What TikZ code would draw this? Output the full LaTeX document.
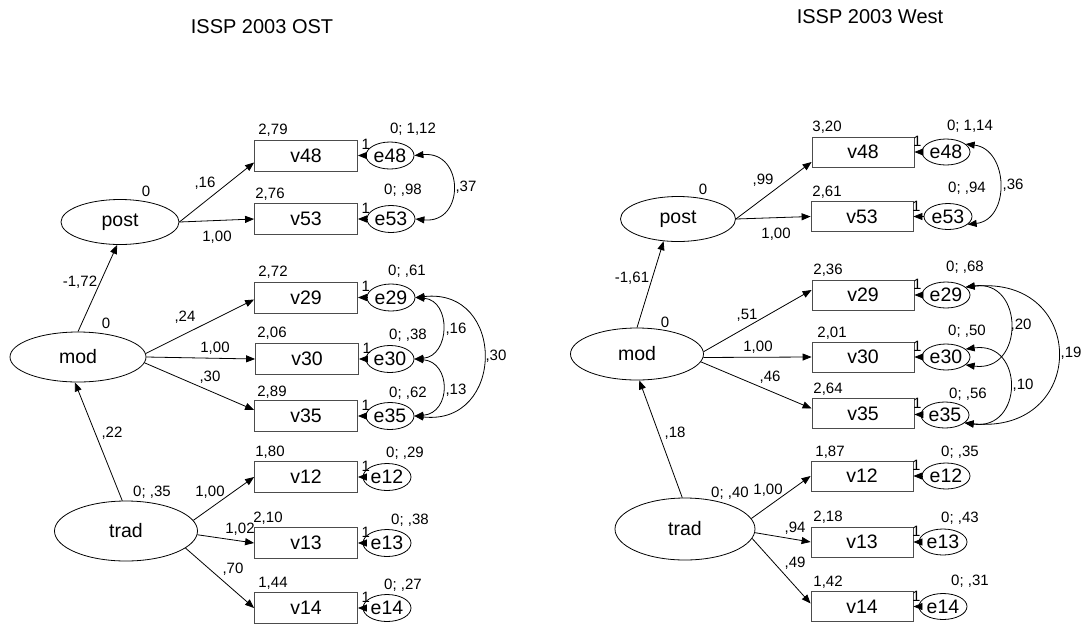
\documentclass[tikz,border=0pt]{standalone}
\usepackage{fontspec}
\setmainfont{Liberation Sans}
\usetikzlibrary{shapes.geometric,arrows.meta}
\newcommand\nodefont{\fontsize{19.5}{21}\selectfont}
\newcommand\labelfont{\fontsize{15}{16}\selectfont}
\newcommand\headfont{\fontsize{20}{22}\selectfont}

\begin{document}
\begin{tikzpicture}[x=1pt,y=-1pt,
  obs/.style={draw=black!70, line width=0.8pt, minimum width=103pt, minimum height=31pt, inner sep=0pt, font=\nodefont},
  err/.style={ellipse, draw, line width=0.8pt, minimum width=48pt, minimum height=27pt, inner sep=0pt, font=\nodefont},
  lat/.style={ellipse, draw, line width=0.8pt, inner sep=0pt, font=\nodefont},
  lbl/.style={inner sep=0pt, font=\labelfont},
  one/.style={inner sep=0pt, font=\labelfont},
  headline/.style={inner sep=0pt, font=\headfont},
  reg/.style={-{Triangle[length=9pt,width=7pt]}, line width=0.8pt},
  cov/.style={{Triangle[length=9pt,width=7pt]}-{Triangle[length=9pt,width=7pt]}, line width=0.8pt}]

\useasboundingbox (0,0) rectangle (1085,625);

% ---------------- East (OST) ----------------
\node[headline] (Lhead) at (262,27) {ISSP 2003 OST};

\node[lat, minimum width=118pt, minimum height=45pt] (Lpost) at (120,222) {post};
\node[lat, minimum width=136pt, minimum height=50pt] (Lmod) at (78,357) {mod};
\node[lat, minimum width=143pt, minimum height=60pt] (Ltrad) at (126,531) {trad};

\node[obs] (Lv48) at (306,155.5) {v48};
\node[obs] (Lv53) at (306,219) {v53};
\node[obs] (Lv29) at (306,297.5) {v29};
\node[obs] (Lv30) at (307,359) {v30};
\node[obs] (Lv35) at (306,416) {v35};
\node[obs] (Lv12) at (306,477) {v12};
\node[obs] (Lv13) at (306,543) {v13};
\node[obs] (Lv14) at (306,608) {v14};

\node[err] (Le48) at (390,155.5) {e48};
\node[err] (Le53) at (391,219) {e53};
\node[err] (Le29) at (391,297.5) {e29};
\node[err] (Le30) at (390,359) {e30};
\node[err] (Le35) at (390,416) {e35};
\node[err] (Le12) at (387,477) {e12};
\node[err] (Le13) at (387,543) {e13};
\node[err] (Le14) at (387,608) {e14};

% structural paths
\draw[reg] (Lmod.north) -- (Lpost.263);
\draw[reg] (Ltrad.97) -- (Lmod.263);
% loadings
\draw[reg] (Lpost.east) -- ([yshift=-7pt]Lv48.west);
\draw[reg] (Lpost.east) -- (Lv53.west);
\draw[reg] (Lmod.3) -- ([yshift=-2pt]Lv29.west);
\draw[reg] (Lmod.0) -- (Lv30.west);
\draw[reg] (Lmod.-5) -- ([yshift=6pt]Lv35.west);
\draw[reg] (Ltrad.9) -- (Lv12.west);
\draw[reg] (Ltrad.-3) -- (Lv13.west);
\draw[reg] (Ltrad.-16) -- (Lv14.west);
% residuals
\foreach \n in {48,53,29,30,35,12,13,14}{
  \draw[reg] (Le\n) -- (Lv\n);
  \node[one] (Lone\n) at ([xshift=8pt,yshift=-5pt]Lv\n.north east) {1};
}
% residual covariances
\draw[cov] (Le48.east) .. controls +(50,-5) and +(50,5) .. (Le53.east);
\draw[cov] (Le29.east) .. controls +(36,3) and +(36,-3) .. (Le30.east);
\draw[cov] (Le30.east) .. controls +(37,3) and +(37,-3) .. (Le35.east);
\draw[cov] (Le29.east) .. controls +(91,-10) and +(91,10) .. (Le35.east);

% estimates
\node[lbl] (Lpm) at (146,191) {0};
\node[lbl] (Lw48) at (205,183) {,16};
\node[lbl] (Lm48) at (273,130) {2,79};
\node[lbl] (Lvar48) at (413,129) {0; 1,12};
\node[lbl] (Lm53) at (270,194) {2,76};
\node[lbl] (Lvar53) at (403,190) {0; ,98};
\node[lbl] (Lc4853) at (466,187) {,37};
\node[lbl] (Lw53) at (217,237) {1,00};
\node[lbl] (Lwpost) at (80,282) {-1,72};
\node[lbl] (Lm29) at (273,272) {2,72};
\node[lbl] (Lvar29) at (407,271) {0; ,61};
\node[lbl] (Lw29) at (185,317) {,24};
\node[lbl] (Lmm) at (106,323) {0};
\node[lbl] (Lm30) at (272,333) {2,06};
\node[lbl] (Lvar30) at (408,335) {0; ,38};
\node[lbl] (Lc2930) at (456,329) {,16};
\node[lbl] (Lw30) at (215,348) {1,00};
\node[lbl] (Lw35) at (210,377) {,30};
\node[lbl] (Lm35) at (272,392) {2,89};
\node[lbl] (Lvar35) at (408,393) {0; ,62};
\node[lbl] (Lc3035) at (456,390) {,13};
\node[lbl] (Lc2935) at (496,356) {,30};
\node[lbl] (Lwmod) at (112,433) {,22};
\node[lbl] (Lm12) at (270,452) {1,80};
\node[lbl] (Lvar12) at (405,453) {0; ,29};
\node[lbl] (Ltv) at (152,492) {0; ,35};
\node[lbl] (Lw12) at (210,492) {1,00};
\node[lbl] (Lm13) at (268,518) {2,10};
\node[lbl] (Lw13) at (240,529) {1,02};
\node[lbl] (Lvar13) at (410,520) {0; ,38};
\node[lbl] (Lw14) at (233,569) {,70};
\node[lbl] (Lm14) at (273,583) {1,44};
\node[lbl] (Lvar14) at (403,585) {0; ,27};

% ---------------- West ----------------
\node[headline] (Rhead) at (870,17) {ISSP 2003 West};

\node[lat, minimum width=115pt, minimum height=45pt] (Rpost) at (678,219) {post};
\node[lat, minimum width=133pt, minimum height=52pt] (Rmod) at (637,354) {mod};
\node[lat, minimum width=140pt, minimum height=62pt] (Rtrad) at (685,529) {trad};

\node[obs, minimum width=102pt, minimum height=30pt] (Rv48) at (863,152) {v48};
\node[obs, minimum width=102pt, minimum height=30pt] (Rv53) at (862,216.5) {v53};
\node[obs, minimum width=102pt, minimum height=30pt] (Rv29) at (863,295) {v29};
\node[obs, minimum width=102pt, minimum height=30pt] (Rv30) at (863,357) {v30};
\node[obs, minimum width=102pt, minimum height=30pt] (Rv35) at (863,413.5) {v35};
\node[obs, minimum width=102pt, minimum height=30pt] (Rv12) at (862,476) {v12};
\node[obs, minimum width=102pt, minimum height=30pt] (Rv13) at (862,542) {v13};
\node[obs, minimum width=102pt, minimum height=30pt] (Rv14) at (862,606.5) {v14};

\node[err, minimum height=26pt] (Re48) at (946,152) {e48};
\node[err, minimum height=26pt] (Re53) at (948,216.5) {e53};
\node[err, minimum height=26pt] (Re29) at (946,295) {e29};
\node[err, minimum height=26pt] (Re30) at (946,357) {e30};
\node[err, minimum height=26pt] (Re35) at (945,415) {e35};
\node[err, minimum height=26pt] (Re12) at (946,476) {e12};
\node[err, minimum height=26pt] (Re13) at (943,542) {e13};
\node[err, minimum height=26pt] (Re14) at (943,606.5) {e14};

% structural paths
\draw[reg] (Rmod.north) -- (Rpost.237);
\draw[reg] (Rtrad.95) -- (Rmod.275);
% loadings
\draw[reg] (Rpost.east) -- ([yshift=-10pt]Rv48.west);
\draw[reg] (Rpost.east) -- (Rv53.west);
\draw[reg] (Rmod.2) -- ([yshift=5pt]Rv29.west);
\draw[reg] (Rmod.-3) -- (Rv30.west);
\draw[reg] (Rmod.-7) -- ([yshift=5pt]Rv35.west);
\draw[reg] (Rtrad.9) -- (Rv12.west);
\draw[reg] (Rtrad.-3) -- (Rv13.west);
\draw[reg] (Rtrad.-8) -- ([yshift=3pt]Rv14.west);
% residuals
\foreach \n in {48,53,29,30,35,12,13,14}{
  \draw[reg] (Re\n) -- (Rv\n);
  \node[one] (Rone\n) at ([xshift=3pt,yshift=-5pt]Rv\n.north east) {1};
}
% residual covariances
\draw[cov] (Re48.22) .. controls +(43,5) and +(43,-5) .. (Re53.-22);
\draw[cov] (Re29.22) .. controls +(59,-8) and +(59,8) .. (Re30.-22);
\draw[cov] (Re30.22) .. controls +(59,-8) and +(59,8) .. (Re35.-22);
\draw[cov] (Re29.22) .. controls +(123,-12) and +(123,12) .. (Re35.-22);

% estimates
\node[lbl] (Rm48) at (827,127) {3,20};
\node[lbl] (Rvar48) at (970,126) {0; 1,14};
\node[lbl] (Rw48) at (763,180) {,99};
\node[lbl] (Rpm) at (703,189) {0};
\node[lbl] (Rm53) at (827,192) {2,61};
\node[lbl] (Rvar53) at (967,188) {0; ,94};
\node[lbl] (Rc4853) at (1013,185) {,36};
\node[lbl] (Rw53) at (776,234) {1,00};
\node[lbl] (Rwpost) at (632,278) {-1,61};
\node[lbl] (Rm29) at (828,270) {2,36};
\node[lbl] (Rvar29) at (965,267) {0; ,68};
\node[lbl] (Rw29) at (747,315) {,51};
\node[lbl] (Rmm) at (665,322) {0};
\node[lbl] (Rm30) at (832,333) {2,01};
\node[lbl] (Rvar30) at (967,331) {0; ,50};
\node[lbl] (Rc2930) at (1021,325) {,20};
\node[lbl] (Rc2935) at (1071,353) {,19};
\node[lbl] (Rw30) at (758,347) {1,00};
\node[lbl] (Rw35) at (770,377) {,46};
\node[lbl] (Rc3035) at (1023,385) {,10};
\node[lbl] (Rm35) at (828,389) {2,64};
\node[lbl] (Rvar35) at (968,394) {0; ,56};
\node[lbl] (Rwmod) at (675,433) {,18};
\node[lbl] (Rm12) at (830,452) {1,87};
\node[lbl] (Rvar12) at (960,452) {0; ,35};
\node[lbl] (Rtv) at (730,493) {0; ,40};
\node[lbl] (Rw12) at (768,490) {1,00};
\node[lbl] (Rm13) at (828,517) {2,18};
\node[lbl] (Rvar13) at (960,518) {0; ,43};
\node[lbl] (Rw13) at (795,528) {,94};
\node[lbl] (Rw14) at (795,563) {,49};
\node[lbl] (Rm14) at (828,582) {1,42};
\node[lbl] (Rvar14) at (970,581) {0; ,31};
\end{tikzpicture}
\end{document}
